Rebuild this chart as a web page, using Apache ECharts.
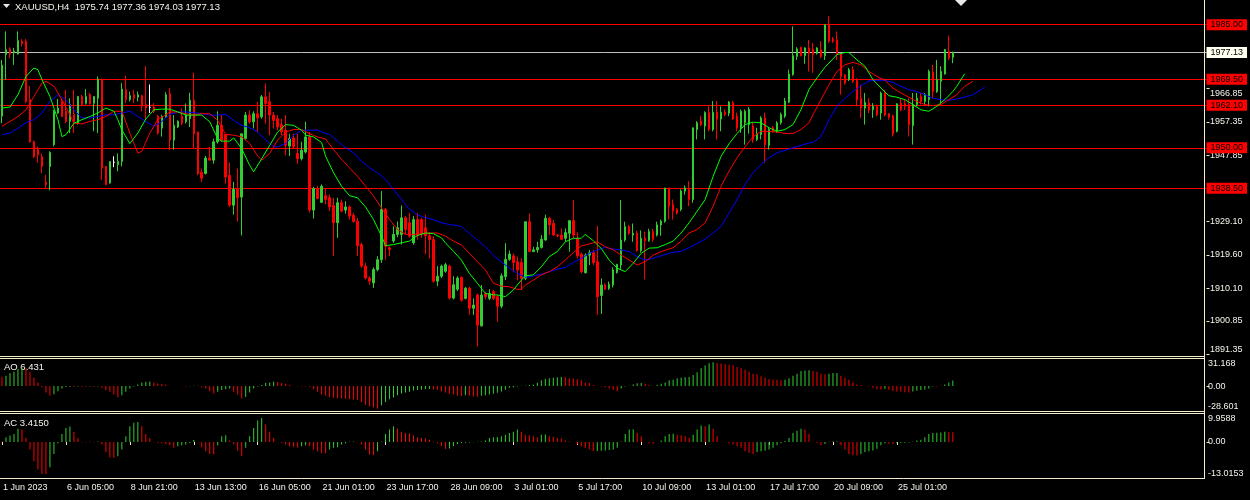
<!DOCTYPE html>
<html><head><meta charset="utf-8">
<script src="https://cdn.jsdelivr.net/npm/echarts@6/dist/echarts.min.js"></script>
<style>html,body{margin:0;padding:0;background:#000;}#c{width:1250px;height:500px;}</style>
</head><body><div id="c"></div>
<script>
const symbol = 'XAUUSD,H4';
const xTickLabels = ['1 Jun 2023','6 Jun 05:00','8 Jun 21:00','13 Jun 13:00','16 Jun 05:00','21 Jun 01:00','23 Jun 17:00','28 Jun 09:00','3 Jul 01:00','5 Jul 17:00','10 Jul 09:00','13 Jul 01:00','17 Jul 17:00','20 Jul 09:00','25 Jul 01:00'];
const xTickStep = 16;
const slotCount = 302;
const categories = Array.from({length: slotCount}, (_, i) => String(i));

const open = [
1959.0,1976.5,1978.1,1977.0,1976.7,1980.3,1980.3,1963.7,1951.8,1949.5,
1947.5,1940.2,1944.7,1950.9,1959.9,1963.2,1960.4,1957.5,1959.5,1957.0,
1964.6,1962.7,1965.1,1962.7,1964.1,1969.4,1944.7,1940.0,1945.9,1945.2,
1946.1,1966.5,1963.7,1965.1,1964.4,1964.8,1962.3,1961.5,1961.6,1959.0,
1955.6,1958.9,1965.4,1952.2,1955.9,1959.0,1957.4,1958.3,1963.5,1954.5,
1943.0,1942.7,1947.1,1946.5,1951.7,1956.4,1953.8,1942.2,1933.7,1938.2,
1936.0,1952.6,1959.3,1957.4,1959.7,1958.8,1964.5,1963.1,1959.3,1958.3,
1956.6,1955.0,1950.5,1952.8,1948.4,1946.9,1948.8,1953.1,1932.3,1938.4,
1934.5,1936.4,1935.8,1933.6,1928.7,1934.4,1932.3,1933.2,1930.8,1929.1,
1922.5,1916.4,1913.0,1911.6,1915.4,1918.2,1932.5,1921.6,1923.5,1925.4,
1925.4,1930.1,1928.7,1923.0,1929.6,1929.6,1927.3,1925.0,1923.9,1912.1,
1913.5,1914.9,1916.4,1907.3,1909.8,1913.2,1907.2,1910.1,1904.4,1908.2,
1899.4,1908.5,1907.2,1909.1,1907.7,1905.0,1913.4,1918.3,1919.3,1917.6,
1917.4,1912.9,1929.0,1920.5,1921.0,1921.7,1923.8,1930.0,1928.5,1925.2,
1925.2,1924.3,1925.7,1929.3,1924.3,1919.8,1914.5,1919.5,1920.2,1917.6,
1908.0,1911.0,1910.0,1911.0,1914.5,1916.7,1923.8,1927.6,1925.2,1925.7,
1920.8,1924.3,1923.6,1926.2,1925.2,1928.1,1929.1,1938.6,1933.9,1932.5,
1932.5,1937.7,1938.2,1935.3,1955.2,1957.6,1956.2,1960.0,1955.2,1960.1,
1958.2,1960.1,1959.8,1962.8,1959.0,1955.7,1957.1,1956.6,1956.2,1952.4,
1953.8,1958.5,1950.7,1955.7,1954.7,1957.1,1959.0,1963.0,1970.8,1976.0,
1978.5,1976.2,1978.4,1978.1,1976.9,1977.9,1976.2,1985.0,1980.9,1980.7,
1976.9,1970.8,1969.4,1972.2,1969.2,1964.1,1961.3,1962.7,1960.8,1961.8,
1959.9,1965.6,1959.7,1959.1,1954.7,1962.7,1962.5,1962.3,1956.3,1962.3,
1964.6,1963.2,1963.7,1971.5,1966.0,1968.9,1971.0,1977.4,1975.74];
const high = [
1975.0,1983.1,1978.6,1978.4,1983.1,1980.9,1980.9,1967.5,1952.0,1950.4,
1948.4,1942.3,1949.0,1960.8,1963.9,1964.1,1966.5,1964.1,1966.5,1964.6,
1965.1,1966.7,1965.6,1964.6,1970.3,1969.7,1944.7,1946.2,1947.6,1948.4,
1968.4,1970.5,1966.0,1966.5,1966.0,1965.1,1973.2,1968.0,1962.7,1959.4,
1959.4,1965.8,1967.0,1959.3,1957.8,1961.2,1962.6,1965.7,1971.4,1954.5,
1944.1,1947.7,1950.3,1952.6,1960.4,1959.3,1953.8,1945.8,1940.3,1944.1,
1954.0,1960.2,1960.7,1960.4,1963.1,1965.0,1968.3,1965.9,1960.2,1959.3,
1958.3,1959.3,1954.0,1954.0,1954.0,1951.7,1957.4,1954.5,1938.9,1939.2,
1939.6,1938.6,1936.7,1935.8,1935.8,1935.3,1934.8,1933.6,1931.5,1930.1,
1923.0,1917.3,1913.5,1916.0,1919.2,1937.7,1932.9,1922.0,1927.7,1929.1,
1933.6,1930.6,1931.5,1930.6,1931.5,1930.1,1931.0,1926.0,1924.9,1916.4,
1916.8,1917.3,1916.8,1913.5,1913.5,1913.4,1910.5,1910.5,1907.2,1908.6,
1911.0,1909.1,1909.8,1909.6,1908.2,1914.3,1922.9,1920.8,1920.0,1919.1,
1918.6,1929.0,1931.4,1921.9,1923.3,1925.2,1931.0,1930.4,1929.5,1925.5,
1927.1,1927.1,1929.5,1935.2,1926.0,1920.2,1920.0,1921.0,1921.0,1927.8,
1912.9,1911.5,1912.0,1916.0,1917.0,1935.2,1929.0,1928.1,1928.5,1926.4,
1926.5,1926.2,1927.0,1927.0,1929.0,1929.6,1938.6,1938.6,1935.3,1932.9,
1938.2,1939.3,1940.5,1955.7,1957.6,1959.0,1960.4,1961.8,1963.3,1963.3,
1961.8,1960.9,1963.3,1963.3,1960.0,1960.9,1960.9,1961.6,1957.1,1955.7,
1959.0,1960.0,1955.7,1956.2,1957.6,1960.0,1964.2,1972.2,1984.5,1978.6,
1978.8,1978.6,1980.7,1979.8,1978.6,1980.3,1985.0,1987.4,1981.5,1983.1,
1976.9,1970.8,1972.7,1973.2,1969.8,1967.9,1965.6,1964.1,1962.7,1962.3,
1966.0,1966.5,1959.9,1959.4,1962.7,1964.1,1963.7,1964.1,1965.6,1965.6,
1965.6,1965.6,1972.2,1973.6,1975.0,1973.2,1978.1,1981.9,1977.36];
const low = [
1957.0,1969.4,1975.5,1973.6,1976.5,1978.8,1962.7,1951.4,1947.1,1945.7,
1942.8,1938.6,1937.9,1950.4,1959.7,1958.9,1957.0,1954.2,1954.2,1956.6,
1961.8,1962.3,1962.3,1954.7,1954.2,1940.9,1939.5,1939.8,1944.5,1943.3,
1944.7,1962.7,1963.2,1962.7,1963.2,1960.4,1958.0,1959.9,1959.9,1953.7,
1953.2,1958.5,1949.3,1949.5,1955.6,1956.4,1956.9,1955.9,1949.8,1942.2,
1940.3,1942.4,1946.5,1945.5,1951.2,1951.7,1939.8,1933.2,1931.0,1929.1,
1925.1,1952.4,1956.9,1955.5,1954.5,1958.3,1956.9,1953.6,1955.5,1955.0,
1953.6,1947.9,1947.7,1949.8,1945.5,1946.4,1948.4,1931.6,1929.9,1935.4,
1934.4,1934.0,1932.0,1919.2,1924.4,1931.7,1931.3,1929.6,1928.7,1919.2,
1915.9,1912.6,1911.1,1910.2,1914.9,1917.3,1918.2,1919.2,1923.0,1924.6,
1922.5,1925.4,1924.4,1922.5,1923.9,1924.4,1919.7,1918.5,1911.6,1910.7,
1913.0,1914.5,1906.9,1906.9,1909.3,1906.3,1906.9,1902.5,1902.5,1893.5,
1899.2,1906.9,1906.7,1906.7,1900.6,1904.4,1912.4,1917.9,1914.8,1912.4,
1909.6,1912.4,1920.5,1920.5,1920.2,1921.4,1923.6,1925.2,1925.0,1924.5,
1923.8,1923.3,1920.5,1924.3,1918.6,1914.3,1914.3,1916.7,1916.7,1902.5,
1902.8,1909.6,1909.6,1910.3,1914.3,1915.3,1923.3,1925.2,1923.3,1920.5,
1920.2,1912.6,1923.3,1923.3,1924.8,1925.0,1928.7,1929.6,1929.6,1931.0,
1932.0,1936.7,1933.4,1934.4,1952.4,1956.2,1952.4,1954.7,1954.7,1952.4,
1954.7,1959.0,1959.0,1958.0,1954.7,1954.3,1950.9,1954.0,1951.4,1951.9,
1952.4,1945.7,1949.5,1954.3,1954.3,1956.6,1958.5,1962.7,1970.5,1975.0,
1976.0,1973.9,1971.7,1971.3,1976.5,1975.5,1975.0,1979.8,1979.8,1975.0,
1965.1,1967.9,1969.0,1968.4,1961.8,1958.5,1956.6,1959.9,1958.5,1958.9,
1958.0,1958.9,1958.0,1953.2,1954.4,1960.4,1960.8,1953.2,1950.9,1961.8,
1962.3,1962.3,1961.8,1964.1,1965.6,1962.7,1970.8,1975.0,1974.03];
const close = [
1973.5,1977.9,1976.7,1977.5,1980.5,1979.6,1963.2,1951.8,1947.5,1948.0,
1944.7,1939.5,1948.7,1960.4,1961.3,1958.9,1957.5,1962.3,1957.5,1964.6,
1962.3,1964.6,1962.5,1964.6,1969.5,1944.2,1939.5,1946.1,1945.9,1946.1,
1966.7,1963.7,1964.8,1964.0,1965.1,1961.8,1961.3,1961.5,1960.4,1954.2,
1958.9,1965.1,1952.2,1956.4,1957.6,1957.0,1959.3,1963.5,1954.0,1942.7,
1941.4,1947.1,1946.5,1951.7,1956.4,1952.2,1941.7,1933.7,1938.2,1935.8,
1954.0,1959.3,1957.4,1959.7,1958.5,1964.5,1962.6,1959.3,1957.8,1955.9,
1954.5,1950.7,1952.6,1950.3,1946.9,1949.3,1953.1,1932.3,1938.4,1935.6,
1939.1,1935.3,1933.2,1928.7,1934.4,1932.0,1933.2,1930.6,1929.1,1922.2,
1916.4,1913.0,1912.1,1915.4,1918.2,1932.5,1922.0,1921.1,1925.4,1927.3,
1930.1,1926.8,1924.9,1929.6,1925.1,1925.4,1925.0,1923.9,1912.1,1913.5,
1916.4,1916.8,1907.3,1911.1,1913.0,1906.7,1910.1,1904.4,1905.3,1899.6,
1908.2,1907.7,1908.6,1907.2,1905.0,1913.6,1918.3,1919.8,1917.4,1915.3,
1912.9,1929.0,1920.5,1921.0,1921.7,1924.0,1930.0,1928.1,1925.2,1925.0,
1924.0,1925.9,1929.3,1925.2,1919.3,1914.8,1919.5,1920.2,1917.4,1907.7,
1911.0,1909.8,1911.2,1915.3,1916.9,1923.8,1927.6,1925.7,1925.7,1920.8,
1924.3,1923.6,1926.2,1924.0,1928.1,1929.1,1938.6,1933.4,1932.0,1931.5,
1937.7,1938.6,1935.3,1955.7,1957.1,1956.6,1960.0,1955.2,1960.1,1958.2,
1960.1,1959.5,1963.0,1958.2,1955.7,1960.4,1960.4,1960.9,1952.4,1954.1,
1958.5,1950.9,1955.2,1954.7,1957.1,1959.5,1963.3,1971.0,1976.2,1978.1,
1976.2,1978.4,1976.9,1976.5,1978.4,1976.0,1985.0,1980.3,1980.3,1976.5,
1970.3,1968.4,1972.2,1968.9,1963.7,1961.3,1962.9,1960.8,1961.8,1959.4,
1965.6,1959.4,1958.7,1954.0,1962.5,1960.8,1961.8,1956.6,1962.3,1964.1,
1963.2,1965.1,1971.7,1966.0,1969.4,1971.7,1977.9,1975.5,1977.13];

// Alligator lines, read at bar index: [bar, price]
const lipsGreen = [[0,1961.3],[2,1961.6],[4,1965.1],[6,1970.3],[8,1972.7],[9,1972.2],[10,1969.4],[12,1964.6],[14,1958.0],[15,1953.2],[16,1953.7],[18,1957.0],[20,1958.0],[22,1958.9],[24,1959.9],[26,1961.3],[28,1960.4],[29,1958.0],[30,1955.1],[32,1951.2],[34,1954.2],[36,1958.2],[38,1960.8],[40,1961.0],[42,1961.0],[44,1960.2],[46,1959.3],[48,1959.3],[50,1959.3],[52,1957.4],[54,1952.6],[55,1951.9],[57,1951.9],[58,1952.8],[60,1949.8],[62,1945.0],[63,1943.2],[65,1946.9],[67,1950.7],[69,1954.5],[71,1956.6],[73,1956.4],[75,1955.0],[76,1953.6],[78,1953.1],[80,1951.5],[81,1947.6],[83,1942.9],[85,1939.1],[87,1936.4],[89,1935.8],[91,1933.2],[93,1929.6],[95,1924.9],[96,1922.2],[98,1922.5],[100,1923.0],[102,1923.5],[104,1925.1],[106,1925.8],[108,1925.6],[110,1924.4],[111,1923.0],[113,1920.6],[115,1918.1],[117,1914.3],[119,1911.5],[121,1908.6],[123,1908.2],[124,1908.2],[126,1907.7],[128,1909.6],[130,1912.4],[131,1913.6],[133,1913.9],[135,1916.2],[137,1919.1],[139,1920.5],[141,1923.3],[143,1924.3],[145,1924.3],[146,1925.4],[148,1923.6],[150,1921.4],[152,1918.1],[154,1915.8],[156,1914.8],[158,1917.2],[160,1920.0],[162,1921.5],[164,1921.6],[166,1922.5],[168,1923.5],[170,1925.8],[172,1928.7],[174,1932.0],[176,1935.3],[178,1941.9],[180,1947.6],[182,1951.2],[184,1954.1],[186,1956.6],[188,1957.3],[190,1957.1],[192,1955.7],[194,1954.7],[196,1955.2],[198,1956.6],[200,1960.9],[202,1966.6],[204,1969.9],[206,1972.9],[207,1974.1],[209,1976.5],[211,1977.1],[212,1977.1],[214,1975.0],[216,1973.2],[218,1969.4],[220,1967.0],[222,1964.8],[224,1964.4],[226,1963.7],[228,1962.3],[230,1960.8],[232,1960.4],[234,1961.8],[236,1963.7],[238,1966.0],[239,1967.5],[241,1971.1]];
const teethRed = [[0,1956.1],[2,1957.5],[4,1958.9],[6,1960.8],[8,1964.6],[10,1968.4],[11,1968.9],[13,1967.5],[15,1963.7],[17,1959.4],[18,1957.0],[20,1956.8],[22,1957.5],[24,1958.0],[26,1958.9],[28,1960.4],[30,1960.4],[32,1954.2],[34,1948.5],[35,1949.0],[37,1954.2],[39,1958.0],[41,1959.4],[42,1960.2],[44,1960.2],[46,1959.7],[48,1959.3],[50,1959.7],[52,1959.7],[54,1957.8],[56,1953.8],[58,1953.6],[60,1953.1],[62,1951.2],[64,1947.7],[65,1946.5],[67,1948.4],[69,1952.2],[71,1954.5],[73,1955.2],[75,1955.2],[77,1954.0],[79,1953.1],[81,1952.5],[83,1949.5],[85,1946.7],[87,1944.3],[89,1941.9],[91,1939.1],[93,1936.3],[95,1932.9],[97,1929.6],[99,1926.8],[101,1925.4],[103,1925.4],[105,1925.5],[107,1925.8],[109,1925.8],[111,1924.9],[113,1923.5],[115,1922.4],[117,1920.0],[119,1917.6],[121,1915.3],[123,1911.5],[125,1910.7],[127,1910.5],[129,1909.8],[130,1909.8],[131,1911.0],[133,1912.4],[135,1913.9],[137,1914.8],[139,1916.2],[141,1918.1],[143,1920.2],[145,1922.1],[147,1922.7],[149,1923.3],[151,1921.9],[153,1921.0],[155,1919.5],[157,1918.1],[159,1916.7],[161,1917.6],[163,1919.5],[165,1920.5],[166,1920.9],[168,1921.6],[170,1923.5],[172,1925.8],[174,1926.8],[176,1928.7],[178,1933.4],[180,1939.1],[182,1943.4],[184,1947.2],[186,1950.3],[188,1953.1],[190,1954.7],[192,1954.7],[194,1954.5],[196,1954.1],[198,1954.1],[200,1955.2],[202,1957.1],[203,1959.4],[205,1963.7],[207,1967.9],[209,1971.7],[211,1973.6],[213,1974.3],[215,1973.6],[217,1971.7],[219,1970.3],[221,1969.2],[223,1967.0],[225,1965.6],[227,1964.4],[229,1963.2],[231,1962.3],[233,1962.0],[235,1962.3],[237,1963.7],[239,1965.1],[241,1967.5],[243,1968.9]];
const jawBlue = [[0,1953.7],[2,1954.2],[4,1955.6],[6,1957.2],[8,1958.0],[10,1959.9],[12,1963.2],[14,1965.1],[16,1963.7],[18,1960.8],[20,1958.5],[22,1958.5],[24,1958.9],[26,1959.4],[28,1959.4],[30,1959.9],[32,1960.4],[34,1958.9],[36,1957.5],[38,1956.1],[40,1957.5],[42,1959.5],[44,1960.2],[46,1960.2],[48,1960.0],[50,1959.7],[52,1959.3],[54,1959.3],[56,1959.5],[58,1957.8],[60,1956.4],[62,1955.7],[64,1954.5],[66,1952.2],[68,1950.3],[69,1950.3],[71,1951.2],[73,1953.6],[75,1955.0],[77,1955.0],[79,1955.0],[81,1954.1],[82,1953.8],[84,1951.9],[86,1950.0],[88,1948.6],[90,1946.2],[92,1944.3],[94,1942.9],[96,1941.0],[98,1938.2],[100,1935.3],[102,1932.5],[104,1931.0],[106,1930.1],[108,1929.6],[110,1928.7],[112,1928.2],[114,1927.9],[115,1927.6],[117,1925.7],[119,1923.8],[121,1921.9],[123,1919.5],[125,1917.6],[127,1915.8],[129,1914.3],[131,1913.2],[133,1913.6],[135,1914.1],[137,1914.8],[139,1915.5],[141,1916.0],[143,1917.4],[145,1918.6],[147,1920.0],[149,1921.0],[151,1921.7],[153,1921.2],[155,1921.0],[157,1920.5],[159,1919.1],[161,1918.1],[163,1918.6],[165,1919.3],[166,1919.7],[168,1920.3],[170,1920.6],[172,1921.6],[174,1922.8],[176,1924.1],[178,1925.8],[180,1927.7],[182,1931.5],[184,1935.3],[186,1939.6],[188,1942.9],[190,1945.3],[192,1947.2],[194,1948.6],[196,1949.3],[198,1950.0],[200,1950.7],[202,1951.4],[203,1951.5],[205,1953.2],[207,1958.0],[209,1961.8],[211,1964.1],[213,1966.0],[215,1967.7],[217,1969.0],[219,1969.2],[221,1969.2],[223,1968.6],[225,1967.5],[227,1966.5],[229,1966.0],[231,1965.1],[233,1964.1],[235,1963.7],[237,1963.5],[239,1963.9],[241,1964.4],[243,1965.1],[245,1966.5],[246,1967.3]];

const ao = [
10.8,12.0,14.7,16.6,19.7,21.3,20.5,15.9,9.7,4.3,
-1.2,-7.3,-11.2,-9.3,-5.8,-2.7,-1.0,-0.7,-0.9,-0.5,
-0.6,-0.7,-0.4,-0.6,-0.5,-2.0,-4.6,-6.6,-9.7,-12.8,
-10.4,-6.6,-2.7,-0.3,1.9,4.3,5.0,5.2,4.3,3.1,
2.7,1.9,0.4,0.2,0.1,-0.1,-0.3,-0.2,0.3,0.4,
-1.2,-2.7,-5.8,-8.5,-6.6,-4.6,-3.5,-2.7,-6.6,-9.7,
-14.3,-12.4,-7.3,-2.7,-0.5,1.2,3.5,4.3,5.0,4.8,
3.5,2.7,1.2,0.1,-0.1,-0.3,-0.4,-0.8,-3.5,-6.6,
-9.7,-11.2,-12.4,-13.5,-14.0,-14.3,-14.5,-15.1,-15.3,-15.9,
-18.2,-21.3,-23.2,-24.7,-25.9,-22.0,-18.2,-15.1,-13.1,-10.4,
-8.5,-7.3,-6.6,-5.0,-4.6,-3.9,-3.5,-3.1,-3.5,-4.3,
-5.8,-7.3,-8.9,-9.7,-11.2,-11.4,-10.4,-11.2,-12.0,-12.2,
-11.2,-10.4,-9.7,-8.9,-7.7,-6.2,-4.3,-1.9,-1.2,-0.4,
0.3,0.4,1.2,1.9,3.9,6.6,8.1,8.9,9.7,10.2,
10.4,10.1,8.9,8.8,8.1,6.6,4.3,3.5,1.2,0.4,
-0.4,-1.2,-2.7,-4.3,-5.8,-2.7,-0.4,0.4,1.9,3.3,
3.5,2.7,1.2,0.4,1.2,2.7,4.3,6.6,7.3,8.9,
9.7,10.2,10.4,12.8,15.9,20.5,23.6,26.3,27.5,26.7,
25.9,25.1,24.7,24.0,22.0,20.5,18.9,16.6,14.3,13.5,
11.2,9.7,8.1,7.3,7.2,6.6,7.3,8.9,12.0,14.3,
17.4,18.0,18.2,17.4,16.6,14.3,13.5,14.3,15.1,15.2,
12.0,9.7,7.3,4.3,1.9,1.2,0.2,-0.4,-1.9,-3.5,
-3.9,-3.1,-4.3,-5.8,-6.2,-6.6,-7.0,-7.3,-6.2,-5.4,
-4.6,-3.9,-2.7,-0.4,-0.5,0.4,1.9,4.3,6.431];
const ac = [
0.2,1.7,2.3,2.8,4.7,4.4,1.4,-2.7,-6.9,-9.8,
-11.4,-11.5,-9.0,-4.3,-0.5,2.8,5.0,5.5,3.6,1.4,
-0.1,-0.2,0.1,-0.1,0.2,-0.9,-3.6,-5.5,-5.6,-5.1,
-2.7,2.0,5.6,6.8,7.1,5.6,2.8,1.4,-0.1,-0.3,
-0.5,-0.7,-1.2,-2.1,-1.5,-1.2,-0.9,-0.4,0.7,-0.1,
-1.9,-3.3,-4.3,-4.4,-1.2,2.0,2.4,0.5,-0.7,-3.1,
-5.1,-2.1,2.0,5.0,7.6,8.5,6.2,3.6,1.4,-0.1,
-0.4,-0.9,-1.5,-1.9,-2.0,-1.5,-1.2,-1.5,-2.7,-3.3,
-3.9,-4.0,-2.7,-2.1,-1.9,-0.9,-0.5,0.1,0.2,-0.1,
-0.9,-2.7,-4.5,-4.7,-3.3,0.2,2.8,4.4,5.6,4.7,
3.6,3.2,3.1,2.4,1.7,1.4,1.2,0.8,0.2,-0.5,
-1.5,-2.5,-2.3,-1.5,-0.7,-0.4,-0.3,-0.2,-0.1,0.1,
0.2,0.5,1.4,1.7,1.8,2.0,2.6,3.2,3.6,4.4,
3.6,2.6,2.4,2.0,1.7,2.6,2.7,2.0,1.9,1.4,
1.2,0.5,0.2,-0.05,-0.7,-1.5,-2.1,-2.7,-3.3,-3.2,
-3.1,-3.0,-2.9,-2.7,-2.1,0.2,2.8,4.4,4.5,3.2,
2.0,-0.1,-0.5,-0.6,0.0,0.5,2.0,2.8,2.9,2.6,
2.4,2.1,1.4,2.6,4.4,5.9,5.6,6.2,4.7,2.0,
0.1,-0.1,-0.5,-0.9,-1.5,-2.1,-3.3,-3.9,-4.3,-3.6,
-3.3,-3.1,-2.7,-2.1,-1.2,-0.5,0.3,1.4,3.2,4.0,
4.7,4.4,2.8,-0.1,-0.4,-1.2,-0.7,0.1,0.15,0.2,
-1.2,-2.7,-4.3,-4.7,-4.8,-4.3,-3.6,-3.3,-3.0,-2.4,
-1.2,-0.5,-0.6,-0.7,-0.5,-0.4,-0.3,-0.2,0.1,0.5,
0.8,1.7,2.8,3.2,3.3,3.35,3.6,3.5,3.415];

const levelPrices = [1985.00, 1969.50, 1962.10, 1950.00, 1938.50];
const priceTicks = [1891.35, 1900.85, 1910.10, 1919.60, 1929.10, 1947.85, 1957.35, 1966.85];
const priceRange = [1890.69, 1992.02];
const aoRange = [-28.601, 31.168];
const acRange = [-13.0153, 9.9588];

const FONT = '"Liberation Sans", Arial, sans-serif';
const TXT = '#f4f4ec';
const FG = '#f2eecb';
const UP = '#32cd32';
const DN = '#ff0000';
const last = close.length - 1;

const candleData = open.map((o, i) => [o, close[i], low[i], high[i]]);
const histo = arr => arr.map((v, i) => ({ value: v, itemStyle: { color: (i > 0 && v > arr[i - 1]) ? UP : DN } }));
const isTick = (idx) => idx % xTickStep === 0 && idx / xTickStep < xTickLabels.length;

const lvlLabel = (bg) => ({
  show: true, position: 'end', distance: 0, formatter: p => Number(p.value).toFixed(2),
  backgroundColor: bg, color: '#000', fontSize: 9, fontFamily: FONT, padding: [1, 4, 0, 4], lineHeight: 10
});
const markData = levelPrices.map(v => ({ yAxis: v, lineStyle: { color: '#ff0000', width: 1, type: 'solid' }, label: lvlLabel('#ff0000') }));
markData.push({ yAxis: close[last], lineStyle: { color: '#c0c0c0', width: 1, type: 'solid' }, label: lvlLabel('#fffff0') });

const sideAxis = (g, range, labels, ticks, fmt, margin) => ({
  type: 'value', gridIndex: g, position: 'right', min: range[0], max: range[1],
  splitLine: { show: false }, axisLine: { show: false },
  axisTick: { show: true, customValues: ticks, length: 3, lineStyle: { color: FG } },
  axisLabel: { customValues: labels, formatter: fmt, color: TXT, fontSize: 9, fontFamily: FONT, margin: margin,
    verticalAlignMinLabel: 'bottom', verticalAlignMaxLabel: 'top' }
});
const fmtSide = v => (v === 0 ? '0.00' : String(v));

const hline = (y, x1, x2) => ({ type: 'line', silent: true, z: 100, shape: { x1: x1, y1: y, x2: x2, y2: y }, style: { stroke: FG, lineWidth: 1 } });

const option = {
  backgroundColor: '#000000',
  animation: false,
  grid: [
    { left: -1.5, width: 1208, top: 0, height: 356.5 },
    { left: -1.5, width: 1208, top: 359, height: 52 },
    { left: -1.5, width: 1208, top: 414, height: 64.5 }
  ],
  xAxis: [0, 1, 2].map(g => ({
    type: 'category', gridIndex: g, data: categories, boundaryGap: true,
    axisLine: { show: false }, splitLine: { show: false },
    axisTick: g === 2 ? { show: true, alignWithLabel: true, interval: isTick, length: 3, lineStyle: { color: FG } } : { show: false },
    axisLabel: g === 2 ? { show: true, interval: isTick, formatter: (v) => xTickLabels[Math.round(Number(v) / xTickStep)], align: 'left',
      color: TXT, fontSize: 9, fontFamily: FONT, margin: 5, padding: [0, 0, 0, 1] } : { show: false }
  })),
  yAxis: [
    sideAxis(0, priceRange, priceTicks, priceTicks, v => Number(v).toFixed(2), 3.5),
    sideAxis(1, aoRange, [aoRange[0], 0, aoRange[1]], [0], fmtSide, 1.5),
    sideAxis(2, acRange, [acRange[0], 0, acRange[1]], [0], fmtSide, 1.5)
  ],
  series: [
    { type: 'candlestick', xAxisIndex: 0, yAxisIndex: 0, data: candleData, barWidth: 2, z: 2,
      itemStyle: { color: UP, color0: DN, borderColor: UP, borderColor0: DN, borderColorDoji: '#ffffff', borderWidth: 1 },
      markLine: { silent: true, symbol: ['none', 'none'], animation: false, data: markData, z: 1 } },
    { type: 'line', xAxisIndex: 0, yAxisIndex: 0, data: jawBlue, showSymbol: false, symbol: 'none', lineStyle: { color: '#0000ff', width: 1 }, z: 3 },
    { type: 'line', xAxisIndex: 0, yAxisIndex: 0, data: teethRed, showSymbol: false, symbol: 'none', lineStyle: { color: '#ff0000', width: 1 }, z: 3 },
    { type: 'line', xAxisIndex: 0, yAxisIndex: 0, data: lipsGreen, showSymbol: false, symbol: 'none', lineStyle: { color: '#00ff00', width: 1 }, z: 3 },
    { type: 'bar', xAxisIndex: 1, yAxisIndex: 1, data: histo(ao), barWidth: 1 },
    { type: 'bar', xAxisIndex: 2, yAxisIndex: 2, data: histo(ac), barWidth: 1 }
  ],
  graphic: [
    hline(356.5, 0, 1204), hline(358.5, 0, 1204), hline(411.5, 0, 1204), hline(413.5, 0, 1204), hline(478.5, 0, 1205),
    { type: 'line', silent: true, z: 100, shape: { x1: 1204.5, y1: 0, x2: 1204.5, y2: 479 }, style: { stroke: FG, lineWidth: 1 } },
    { type: 'polygon', silent: true, shape: { points: [[3, 4], [10, 4], [6.5, 8]] }, style: { fill: '#e8e8e8' } },
    { type: 'polygon', silent: true, shape: { points: [[955, 0], [967, 0], [961, 6]] }, style: { fill: '#e8e8e8' } },
    { type: 'text', silent: true, x: 15, y: 7, style: { text: symbol + '  ' + open[last].toFixed(2) + ' ' + high[last].toFixed(2) + ' ' + low[last].toFixed(2) + ' ' + close[last].toFixed(2),
      fill: TXT, fontSize: 9.5, fontFamily: FONT, verticalAlign: 'middle' } },
    { type: 'text', silent: true, x: 4, y: 367, style: { text: 'AO ' + ao[last].toFixed(3), fill: TXT, fontSize: 9.5, fontFamily: FONT, verticalAlign: 'middle' } },
    { type: 'text', silent: true, x: 4, y: 423, style: { text: 'AC ' + ac[last].toFixed(4), fill: TXT, fontSize: 9.5, fontFamily: FONT, verticalAlign: 'middle' } }
  ]
};
const chart = echarts.init(document.getElementById('c'));
chart.setOption(option);
</script>
</body></html>
